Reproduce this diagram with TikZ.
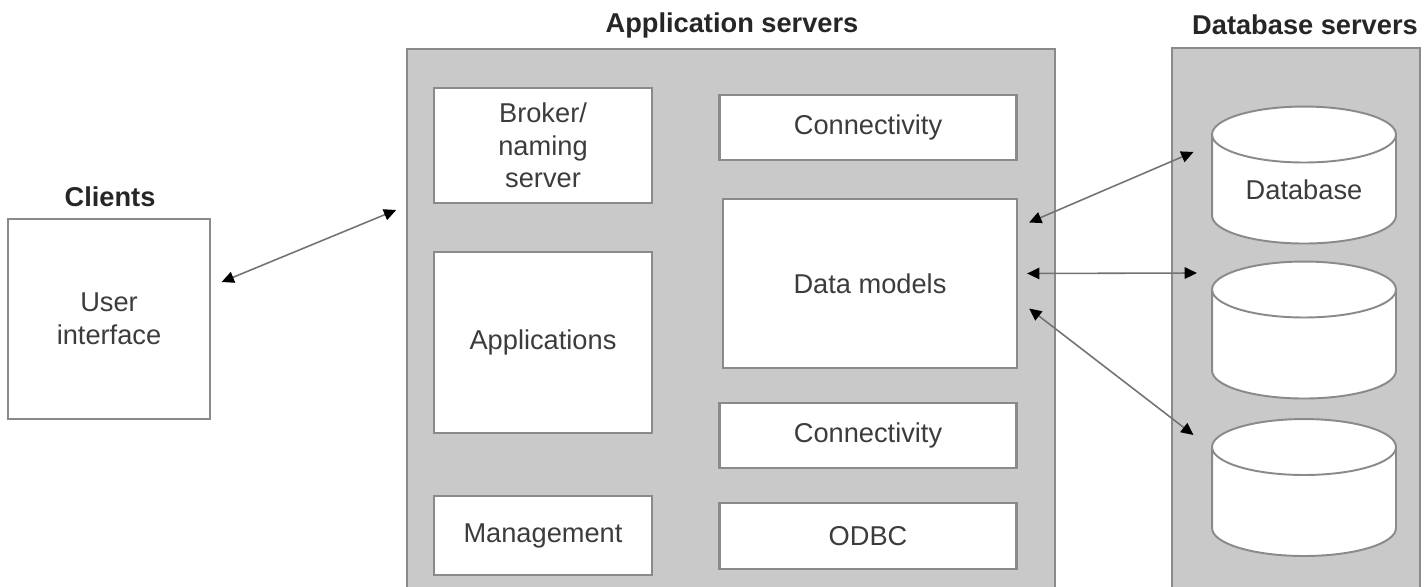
\documentclass[tikz,border=0pt]{standalone}
\usepackage{fontspec}
\setmainfont{Liberation Sans}
\usetikzlibrary{shapes.geometric,arrows.meta}

\definecolor{panelgray}{HTML}{C9C9C9}
\definecolor{edgegray}{HTML}{8A8A8A}
\definecolor{inkgray}{HTML}{3C3C3C}

\tikzset{
  tier/.style={font=\fontsize{15.5}{18.5}\selectfont\bfseries, text=black!85},
  panel/.style={fill=panelgray, inner sep=0pt},
  unit/.style={draw=edgegray, line width=1.3pt, fill=white, text=inkgray,
    align=center, inner sep=0pt},
  store/.style={cylinder, shape border rotate=90, aspect=0.48, draw=edgegray,
    line width=1.1pt, fill=white, text=inkgray, inner sep=0pt,
    text height=0.42cm, text depth=0cm,
    minimum width=3.68cm, minimum height=2.74cm},
  link/.style={draw=black!55, line width=0.9pt,
    {Triangle[length=7pt,width=6.5pt,color=black]}-{Triangle[length=7pt,width=6.5pt,color=black]}}
}

\begin{document}
\begin{tikzpicture}[x=0.02cm, y=-0.02cm, font=\fontsize{15.5}{18.5}\selectfont]
  \useasboundingbox (0,0) rectangle (1426,587);

  \node[tier] (clientslbl) at (110,197) {Clients};
  \node[unit, minimum width=4.04cm, minimum height=4cm] (ui) at (109,319) {User\\interface};

  \node[tier] (applbl) at (732,25) {Application servers};
  \node[panel, minimum width=12.96cm, minimum height=10.76cm] (appsrv) at (731,318) {};
  \draw[edgegray, line width=1.3pt] (appsrv.south west) |- (appsrv.north east) -- (appsrv.south east);

  \node[unit, minimum width=4.36cm, minimum height=2.3cm] (broker) at (543,145.5) {Broker/\\naming\\server};
  \node[unit, minimum width=4.36cm, minimum height=3.62cm] (apps) at (543,342.5) {Applications};
  \node[unit, minimum width=4.36cm, minimum height=1.58cm] (mgmt) at (543,535.5) {Management};

  \node[unit, minimum width=5.94cm, minimum height=1.3cm] (conntop) at (868,127.5) {Connectivity};
  \node[unit, minimum width=5.88cm, minimum height=3.38cm] (models) at (870,283.5) {Data models};
  \node[unit, minimum width=5.94cm, minimum height=1.3cm] (connbot) at (868,435.5) {Connectivity};
  \node[unit, minimum width=5.94cm, minimum height=1.32cm] (odbc) at (868,536) {ODBC};

  \node[tier] (dblbl) at (1305,25) {Database servers};
  \node[panel, minimum width=4.96cm, minimum height=10.78cm] (dbsrv) at (1296,318) {};
  \draw[edgegray, line width=1.3pt] (dbsrv.south west) |- (dbsrv.north east) -- (dbsrv.south east);

  \node[store] (dbone) at (1304,189.5) {Database};
  \node[store] (dbtwo) at (1304,344.5) {\phantom{Database}};
  \node[store] (dbthree) at (1304,502) {\phantom{Database}};

  \draw[link] ([xshift=6]ui.east |- 0,282) -- ([xshift=-6]appsrv.north west |- 0,210);
  \draw[link] ([shift={(11,-61)}]models.east) -- ([xshift=-10]dbone.west |- 0,152);
  \draw[link] ([shift={(9,-10)}]models.east) -- ([xshift=-8]dbtwo.west |- 0,273);
  \draw[link] ([shift={(11,25)}]models.east) -- ([xshift=-10]dbthree.west |- 0,435);
\end{tikzpicture}
\end{document}
